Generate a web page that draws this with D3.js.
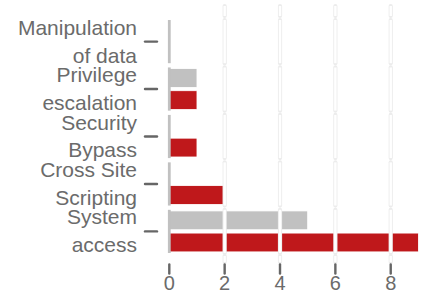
<!DOCTYPE html>
<html>
<head>
<meta charset="utf-8">
<script src="https://cdn.jsdelivr.net/npm/d3@7.9.0/dist/d3.min.js"></script>
<style>
  body { margin: 0; background: #fff; }
  text { font-family: "Liberation Sans", Arial, sans-serif; fill: #6b6b6b; }
</style>
</head>
<body>
<svg width="425" height="293"></svg>
<script>
const categories = ["Manipulation of data", "Privilege escalation", "Security Bypass", "Cross Site Scripting", "System access"];
const categoryLines = [["Manipulation", "of data"], ["Privilege", "escalation"], ["Security", "Bypass"], ["Cross Site", "Scripting"], ["System", "access"]];
const grayValues = [0, 1, 0, 0, 5];
const redValues = [0, 1, 1, 2, 9];
const xTicks = [0, 2, 4, 6, 8];

const colors = { gray: "#c1c1c1", red: "#bf181b" };

const svg = d3.select("svg");

const x = d3.scaleLinear().domain([0, 9]).range([169.3, 418.4]);
const panel = d3.scaleBand().domain(categories).range([20, 253]).paddingInner(0.09);
const row = d3.scaleBand().domain(["gray", "red"]).range([0, panel.bandwidth()])
  .paddingInner(0.15).paddingOuter(0.05);

const data = categories.map((c, i) => ({
  cat: c, lines: categoryLines[i], gray: grayValues[i], red: redValues[i]
}));

// bars
const panels = svg.selectAll(".panel").data(data).join("g")
  .attr("class", "panel")
  .attr("transform", d => `translate(0,${panel(d.cat)})`);

for (const key of ["gray", "red"]) {
  panels.filter(d => d[key] > 0).append("rect")
    .attr("x", x(0))
    .attr("y", row(key))
    .attr("width", d => x(d[key]) - x(0))
    .attr("height", row.bandwidth())
    .attr("fill", colors[key])
    .attr("stroke", "#fff")
    .attr("stroke-width", 0.8);
}

// gridlines (broken per panel, plus the small bits above and below)
const segments = data.map(d => [panel(d.cat), panel(d.cat) + panel.bandwidth()]);
segments.unshift([6, 16]);
segments.push([256, 262]);

for (const [y1, y2] of segments) {
  const grid = svg.append("g");
  grid.selectAll(".g-out").data(xTicks.slice(1)).join("line")
    .attr("x1", d => x(d)).attr("x2", d => x(d))
    .attr("y1", y1).attr("y2", y2)
    .attr("stroke", "#ececec").attr("stroke-width", 4.2)
    .attr("stroke-linecap", "round");
  grid.selectAll(".g-in").data(xTicks.slice(1)).join("line")
    .attr("x1", d => x(d)).attr("x2", d => x(d))
    .attr("y1", y1).attr("y2", y2)
    .attr("stroke", "#fff").attr("stroke-width", 2.4);
}

// zero line per panel
panels.append("line")
  .attr("x1", x(0)).attr("x2", x(0))
  .attr("y1", 0).attr("y2", panel.bandwidth())
  .attr("stroke", colors.gray).attr("stroke-width", 2.8);

// y ticks and labels
panels.append("line")
  .attr("x1", 145).attr("x2", 157)
  .attr("y1", panel.bandwidth() / 2).attr("y2", panel.bandwidth() / 2)
  .attr("stroke", "#666").attr("stroke-width", 2.4)
  .attr("stroke-linecap", "round");

const labels = panels.append("text")
  .attr("text-anchor", "end")
  .style("font-size", "21px");
labels.append("tspan")
  .attr("x", 137).attr("y", panel.bandwidth() / 2 - 7)
  .text(d => d.lines[0]);
labels.append("tspan")
  .attr("x", 137).attr("y", panel.bandwidth() / 2 + 21)
  .text(d => d.lines[1]);

// x axis
const xAxis = svg.append("g");
xAxis.selectAll("line").data(xTicks).join("line")
  .attr("x1", d => x(d)).attr("x2", d => x(d))
  .attr("y1", 264.5).attr("y2", 273.5)
  .attr("stroke", "#666").attr("stroke-width", 2.4)
  .attr("stroke-linecap", "round");
xAxis.selectAll("text").data(xTicks).join("text")
  .attr("x", d => x(d)).attr("y", 290)
  .attr("text-anchor", "middle")
  .style("font-size", "20px")
  .text(d => d);
</script>
</body>
</html>
